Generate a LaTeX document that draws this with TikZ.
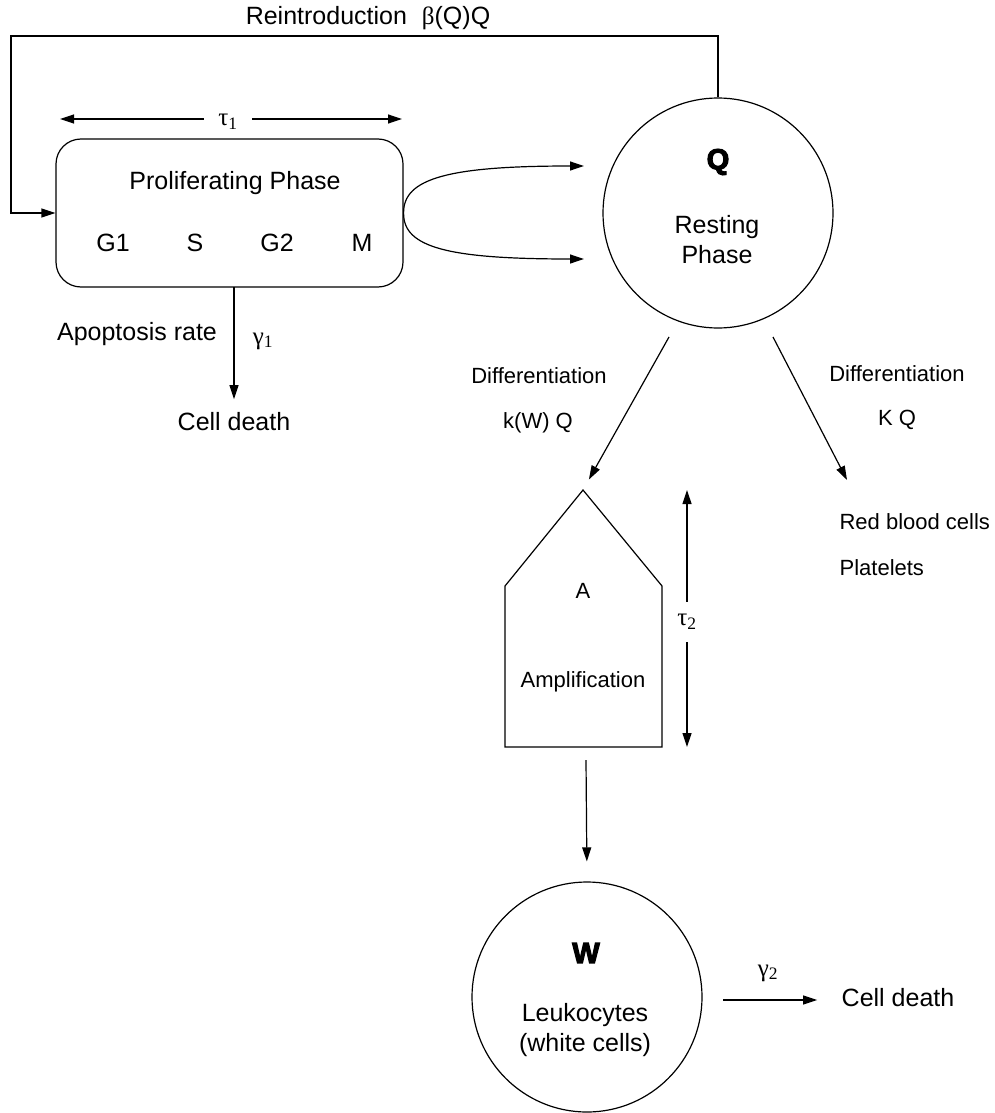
\documentclass[tikz,border=0pt]{standalone}
\usepackage{fontspec}
\setmainfont{Liberation Sans}
\newfontfamily\grk{Liberation Serif}
\newfontfamily\heavy[FakeBold=4]{Liberation Sans Bold}
\usetikzlibrary{arrows.meta}

\tikzset{
  arr/.style={-{Triangle[length=14pt,width=9pt]}},
  lab/.style={font=\fontsize{25}{30}\selectfont, inner sep=0pt},
  slab/.style={font=\fontsize{22}{26}\selectfont, inner sep=0pt},
  ring/.style={draw, circle, minimum size=230pt, inner sep=0pt},
  bigletter/.style={font=\heavy\fontsize{29}{30}\selectfont, inner sep=0pt},
}
\newcommand{\gsub}[2]{{\grk #1\textsubscript{#2}}}

\begin{document}
\begin{tikzpicture}[x=1pt,y=-1pt,line width=1.2pt]
\useasboundingbox (0,0) rectangle (995,1113);

% proliferating phase
\node (prolif) [draw, rounded corners=25pt, minimum width=347pt, minimum height=148pt] at (229.5,213) {};
\node[lab] (prolifname) at (235,183) {Proliferating Phase};
\foreach \ph/\x in {G1/113, S/195, G2/277, M/362}
  \node[lab] (ph\ph) at (\x,243) {\ph};

% duration of the cycle
\node[lab, inner xsep=14pt] (tauone) at (228,122) {\gsub{τ}{1}};
\coordinate (tauonel) at (60,119);
\coordinate (tauoner) at (402,119);
\draw[arr] (tauone.west |- tauonel) -- (tauonel);
\draw[arr] (tauone.east |- tauoner) -- (tauoner);

% resting phase
\node (resting) [ring] at (718,213) {};
\node[bigletter] (qname) at (718,162) {Q};
\node[lab, align=center] (restname) at (717,240) {Resting\\Phase};

% reintroduction loop
\node[lab] (reintro) at (368,18) {Reintroduction\hspace{8pt} {\grk β}(Q)Q};
\coordinate (fbcorner) at (11,36);
\draw[arr] (resting.north) |- (fbcorner) |- (prolif.west);

% two exits towards the resting phase
\coordinate (qin1) at (584,166);
\coordinate (qin2) at (584,259);
\draw[arr] (prolif.east) .. controls (403,178) and (450,166) .. (qin1);
\draw[arr] (prolif.east) .. controls (403,248) and (450,259) .. (qin2);

% apoptosis
\coordinate (apostart) at (234,287);
\node[lab] (death1) at (234,422) {Cell death};
\draw[arr, shorten >=13pt] (apostart) -- (death1.north -| apostart);
\node[lab] (apolab) at (137,334) {Apoptosis rate};
\node[lab] (gamone) at (263,341) {\gsub{γ}{1}};

% differentiation towards amplification
\coordinate (dl) at (669,337);
\coordinate (amptop) at (583,490);
\draw[arr, shorten >=12pt] (dl) -- (amptop);
\node[slab] (difl) at (539,376) {Differentiation};
\node[slab] (kwq) at (538,423) {k(W) Q};

% differentiation towards red cells
\coordinate (dr) at (773,337);
\coordinate (drend) at (847,480);
\draw[arr] (dr) -- (drend);
\node[slab] (difr) at (897,374) {Differentiation};
\node[slab] (kq) at (897,420) {K Q};
\node[slab, anchor=west] (rbc) at (839,522) {Red blood cells};
\node[slab, anchor=west] (plat) at (839,568) {Platelets};

% amplification compartment
\draw (amptop) -- (662,586) -- (662,747) -- (505,747) -- (505,586) -- cycle;
\node[slab] (aname) at (583,591) {A};
\node[slab] (ampname) at (583,682) {Amplification};

% duration of amplification
\node[lab, inner ysep=12pt] (tautwo) at (687,622) {\gsub{τ}{2}};
\coordinate (ttop) at (687,490);
\coordinate (tbot) at (687,747);
\draw[arr] (tautwo.north) -- (ttop);
\draw[arr] (tautwo.south) -- (tbot);

% leukocytes
\node (leuko) [ring] at (587,997) {};
\node[bigletter] (wname) at (586,953) {W};
\node[lab, align=center] (leukname) at (585,1030) {Leukocytes\\(white cells)};
\coordinate (ampbot) at (586,760);
\draw[arr, shorten >=20pt] (ampbot) -- (leuko.north);

% death of white cells
\coordinate (gtwo) at (723,1000);
\node[lab] (death2) at (898,998) {Cell death};
\draw[arr, shorten >=24pt] (gtwo) -- (death2.west |- gtwo);
\node[lab] (gamtwo) at (768,973) {\gsub{γ}{2}};

\end{tikzpicture}
\end{document}
